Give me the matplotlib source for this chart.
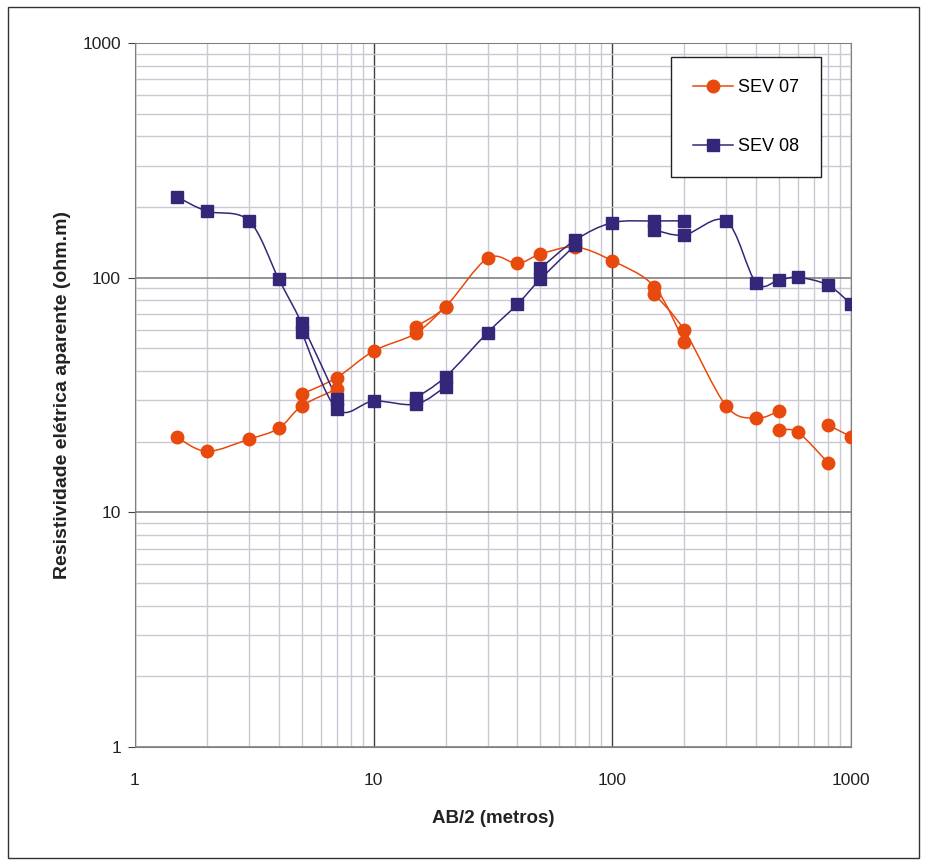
import numpy as np
import matplotlib
matplotlib.use("Agg")
import matplotlib.pyplot as plt
from matplotlib.path import Path
from matplotlib.patches import PathPatch, Rectangle
from matplotlib.lines import Line2D
from matplotlib.ticker import LogLocator, FixedLocator, NullFormatter

plt.rcParams['font.family'] = ['Liberation Sans', 'DejaVu Sans']

# SEV 07 - each sub list is one measured branch (AB/2 in metres)
sev07_ab2 = [[1.5, 2, 3, 4, 5, 7],
             [5, 7, 10, 15, 20],
             [15, 20, 30, 40, 50, 70, 100, 150, 200],
             [150, 200, 300, 400, 500],
             [500, 600, 800],
             [800, 1000]]
sev07_rho = [[20.9, 18.2, 20.5, 22.8, 28.4, 33.5],
             [31.9, 37.5, 48.7, 57.9, 75.2],
             [61.8, 75.2, 121, 115, 126, 135, 118, 91.5, 53.2],
             [85.2, 59.8, 28.4, 25.2, 27.0],
             [22.4, 21.9, 16.3],
             [23.6, 21.0]]

# SEV 08
sev08_ab2 = [[1.5, 2, 3, 4, 5, 7],
             [5, 7, 10, 15, 20],
             [15, 20, 30, 40, 50, 70],
             [50, 70, 100, 150, 200],
             [150, 200, 300, 400, 500, 600, 800, 1000]]
sev08_rho = [[221, 192, 175, 98.7, 63.8, 30.5],
             [58.4, 27.6, 29.8, 28.9, 34.3],
             [30.7, 37.8, 58.3, 77.0, 98.7, 137.8],
             [109.6, 144.7, 171.5, 174.4, 174.4],
             [159.7, 152, 174.4, 95.2, 97.8, 100.3, 93.0, 77.2]]

labels = ['SEV 07', 'SEV 08']
colors = ['#E8490C', '#36267A']
markers = ['o', 's']


def smooth_path(xs, ys):
    # Excel-like smoothed line: cubic bezier built in log-log space
    px = np.log10(np.asarray(xs, float))
    py = np.log10(np.asarray(ys, float))
    n = len(px)
    verts = [(px[0], py[0])]
    codes = [Path.MOVETO]
    for i in range(n - 1):
        a = max(i - 1, 0)
        b = min(i + 2, n - 1)
        c1 = (px[i] + (px[i + 1] - px[a]) / 6, py[i] + (py[i + 1] - py[a]) / 6)
        c2 = (px[i + 1] - (px[b] - px[i]) / 6, py[i + 1] - (py[b] - py[i]) / 6)
        verts += [c1, c2, (px[i + 1], py[i + 1])]
        codes += [Path.CURVE4] * 3
    verts = 10 ** np.array(verts)
    return Path(verts, codes)


fig = plt.figure(figsize=(9.28, 8.68), dpi=100)
ax = fig.add_axes([135 / 928, 1 - 747 / 868, 716 / 928, 704 / 868])
ax.set_xscale('log')
ax.set_yscale('log')
ax.set_xlim(1, 1000)
ax.set_ylim(1, 1000)

ax.xaxis.set_major_locator(FixedLocator([1, 10, 100, 1000]))
ax.yaxis.set_major_locator(FixedLocator([1, 10, 100, 1000]))
ax.xaxis.set_minor_locator(LogLocator(base=10, subs=range(2, 10)))
ax.yaxis.set_minor_locator(LogLocator(base=10, subs=range(2, 10)))
ax.xaxis.set_minor_formatter(NullFormatter())
ax.yaxis.set_minor_formatter(NullFormatter())
ax.set_xticklabels(['1', '10', '100', '1000'])
ax.set_yticklabels(['1', '10', '100', '1000'])

ax.grid(which='minor', color='#C9C9D3', linewidth=1.0)
ax.grid(which='major', axis='x', color='#404040', linewidth=1.0)
ax.grid(which='major', axis='y', color='#808080', linewidth=1.2)
ax.set_axisbelow(True)
for s in ax.spines.values():
    s.set_color('#808080')
ax.tick_params(which='minor', length=0)
ax.tick_params(which='major', length=5, color='#404040', labelsize=12.5,
               labelcolor='#222222')
ax.tick_params(axis='x', which='major', length=0, pad=18.5)
ax.tick_params(axis='y', which='major', pad=5)

series = [(sev07_ab2, sev07_rho), (sev08_ab2, sev08_rho)]
for (xsegs, ysegs), col, mk in zip(series, colors, markers):
    for xs, ys in zip(xsegs, ysegs):
        ax.add_patch(PathPatch(smooth_path(xs, ys), fill=False,
                               edgecolor=col, linewidth=1.1, zorder=3))
        ax.plot(xs, ys, linestyle='none', marker=mk, color=col,
                markersize=9 if mk == 'o' else 8, zorder=4)

ax.set_xlabel('AB/2 (metros)', fontsize=13.5, fontweight='bold',
              color='#222222', labelpad=16)
ax.set_ylabel('Resistividade elétrica aparente (ohm.m)', fontsize=14,
              fontweight='bold', color='#222222', labelpad=8)

handles = [Line2D([], [], color=c, marker=m, markersize=9 if m == 'o' else 8,
                  linewidth=1.1) for c, m in zip(colors, markers)]
leg = ax.legend(handles, labels, loc='upper left',
                bbox_to_anchor=((671 - 135) / 716, 1 - (57 - 43) / 704),
                fontsize=13, frameon=True, fancybox=False, framealpha=1,
                edgecolor='#222222', borderpad=1.22, labelspacing=2.35,
                handlelength=2.2, handletextpad=0.3, borderaxespad=0)
leg.get_frame().set_linewidth(1.0)

fig.patches.append(Rectangle((8 / 928, 1 - 858 / 868), 911 / 928, 851 / 868,
                             transform=fig.transFigure, fill=False,
                             edgecolor='#333333', linewidth=1.0))

fig.savefig('out.png', dpi=100)
